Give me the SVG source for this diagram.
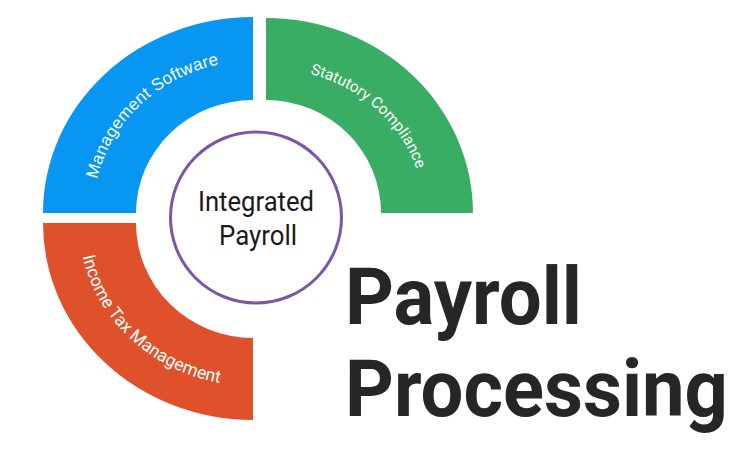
<svg xmlns="http://www.w3.org/2000/svg" width="750" height="450" viewBox="0 0 750 450">
  <style>
    .seg-label { fill: #ffffff; }
    .roboto { font-family: Roboto, "Liberation Sans", sans-serif; }
    .arial { font-family: "Liberation Sans", Arial, sans-serif; }
    .title { font-family: Roboto, "Liberation Sans", sans-serif; font-weight: 700; font-size: 80px; fill: #262626; }
    .center-text { font-family: Roboto, "Liberation Sans", sans-serif; font-size: 27px; fill: #1a1a1a; text-anchor: middle; }
  </style>
  <defs>
    <path id="p-blue" d="M 93,213 A 160 152 0 0 1 253,61" fill="none"/>
    <path id="p-green" d="M 266,68 A 158 145 0 0 1 424,213" fill="none"/>
    <path id="p-orange" d="M 79,223 A 174 163 0 0 0 253,386" fill="none"/>
  </defs>
  <rect width="750" height="450" fill="#ffffff"/>

  <g id="management-software">
    <path d="M 43,213 A 210 196 0 0 1 253,17 L 253,100 A 117 113 0 0 0 136,213 Z" fill="#0796f2"/>
    <text class="seg-label arial" font-size="17" letter-spacing="0.3">
      <textPath href="#p-blue" startOffset="50%" text-anchor="middle">Management Software</textPath>
    </text>
  </g>

  <g id="statutory-compliance">
    <path d="M 266,18 A 207 195 0 0 1 473,213 L 381,213 A 115 113 0 0 0 266,100 Z" fill="#39ad63"/>
    <text class="seg-label roboto" font-size="15.5">
      <textPath href="#p-green" startOffset="50%" text-anchor="middle">Statutory Compliance</textPath>
    </text>
  </g>

  <g id="income-tax-management">
    <path d="M 43,223 L 136,223 A 117 115 0 0 0 253,338 L 253,420 A 210 197 0 0 1 43,223 Z" fill="#df512b"/>
    <text class="seg-label roboto" font-size="17.5">
      <textPath href="#p-orange" startOffset="50%" text-anchor="middle">Income Tax Management</textPath>
    </text>
  </g>

  <g id="integrated-payroll">
    <circle cx="256" cy="217.5" r="85.5" fill="#ffffff" stroke="#7d55a6" stroke-width="3"/>
    <text class="center-text" x="256" y="211" textLength="116" lengthAdjust="spacingAndGlyphs">Integrated</text>
    <text class="center-text" x="258" y="245" textLength="78" lengthAdjust="spacingAndGlyphs">Payroll</text>
  </g>

  <g id="title">
    <text class="title" x="345" y="324" textLength="237" lengthAdjust="spacingAndGlyphs">Payroll</text>
    <text class="title" x="345" y="416" textLength="383" lengthAdjust="spacingAndGlyphs">Processing</text>
  </g>

  <g id="connectors"></g>
</svg>
